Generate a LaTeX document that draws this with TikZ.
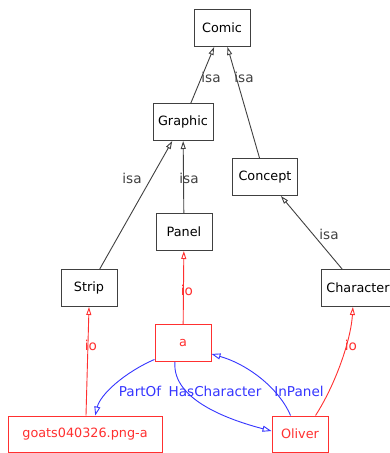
\documentclass[tikz,border=0pt]{standalone}
\usepackage{fontspec}
\setmainfont{DejaVu Sans}
\usetikzlibrary{arrows.meta}
\definecolor{ink}{HTML}{404040}
\definecolor{rd}{HTML}{FF3030}
\definecolor{bl}{HTML}{3535FF}
\tikzset{
  box/.style={draw=ink, line width=1pt, fill=white, minimum width=56pt, minimum height=37pt, inner xsep=5pt, font=\fontsize{12.8}{14}\selectfont, text=black},
  rbox/.style={box, draw=rd, text=rd},
  isaedge/.style={draw=ink, line width=0.9pt, -{Triangle[open, length=8pt, width=5pt]}},
  ioedge/.style={draw=rd, line width=0.9pt, -{Triangle[open, length=8pt, width=5pt]}},
  reledge/.style={draw=bl, line width=0.9pt, -{Triangle[open, length=9pt, width=6pt]}},
  lbl/.style={font=\fontsize{13.6}{15}\selectfont, inner sep=0pt},
}
\begin{document}
\begin{tikzpicture}[x=1pt, y=-1pt]
\useasboundingbox (0,0) rectangle (390,453);
\node[box] (comic) at (222,28) {Comic};
\node[box, minimum width=60pt] (graphic) at (183,122) {Graphic};
\node[box, minimum width=65pt] (concept) at (265,177) {Concept};
\node[box] (panel) at (184,232) {Panel};
\node[box] (strip) at (89,288) {Strip};
\node[box, minimum width=73pt] (character) at (358,288) {Character};
\node[rbox] (a) at (183,343) {a};
\node[rbox, minimum width=154pt, minimum height=36pt] (goats) at (85,434) {goats040326.png-a};
\node[rbox, minimum height=36pt] (oliver) at (300,434) {Oliver};

\draw[isaedge] (graphic) -- (comic) node[lbl, text=ink, at={(211,77)}] {isa};
\draw[isaedge] (concept) -- (comic) node[lbl, text=ink, at={(244,77)}] {isa};
\draw[isaedge] (strip) -- (graphic) node[lbl, text=ink, at={(132,178)}] {isa};
\draw[isaedge] (panel) -- (graphic) node[lbl, text=ink, at={(189,178)}] {isa};
\draw[isaedge] (character) -- (concept) node[lbl, text=ink, at={(329,234)}] {isa};

\draw[ioedge] (a) -- (panel) node[lbl, text=rd, at={(187,290)}] {io};
\draw[ioedge] (goats.north -| strip.south) ++(-3,0) coordinate (gs) -- (strip.south) node[lbl, text=rd, at={(91,345)}] {io};
\draw[ioedge] (oliver.50) .. controls +(20,-31) and +(-2,33) .. (character.255) node[lbl, text=rd, at={(351,345)}] {io};

\draw[reledge] (a.210) .. controls +(-30,13) and +(5,-21) .. (goats.61) node[lbl, text=bl, at={(140,391)}] {PartOf};
\draw[reledge] (a.247) .. controls +(-3,38) and +(-42,-11) .. (oliver.174) node[lbl, text=bl, at={(215,391)}] {HasCharacter};
\draw[reledge] (oliver.117) .. controls +(-11,-26) and +(38,11) .. (a.339) node[lbl, text=bl, at={(299,391)}] {InPanel};
\end{tikzpicture}
\end{document}
